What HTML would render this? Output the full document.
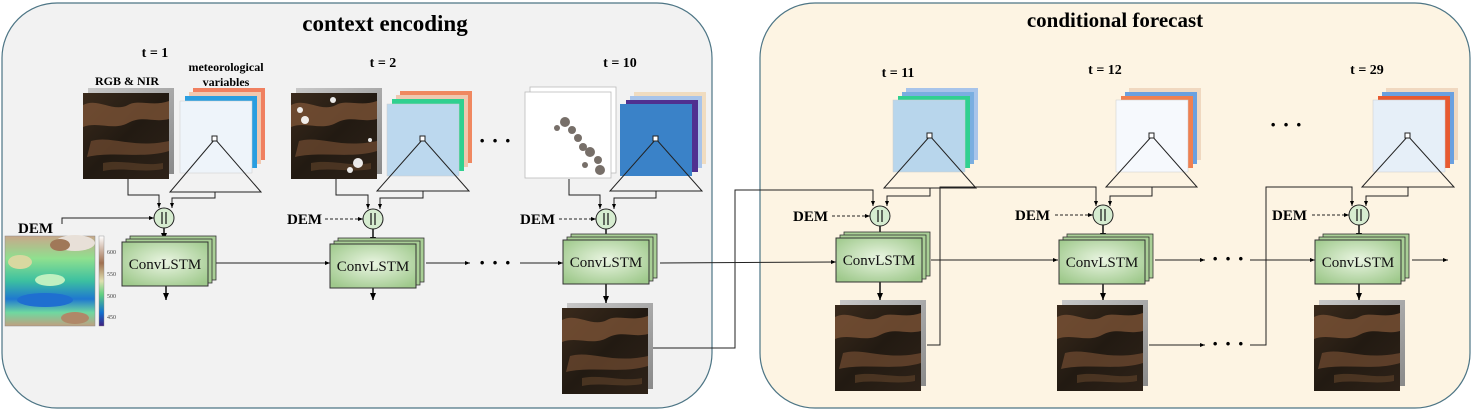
<!DOCTYPE html>
<html><head><meta charset="utf-8"><style>
html,body{margin:0;padding:0;background:#fff;}
svg{display:block;}
text{font-family:"Liberation Serif",serif;}
</style></head><body>
<svg width="1473" height="410" viewBox="0 0 1473 410" xmlns="http://www.w3.org/2000/svg" font-family="Liberation Serif, serif">
<defs>
<radialGradient id="cg" cx="50%" cy="45%" r="65%"><stop offset="0" stop-color="#eaf5e2"/><stop offset="1" stop-color="#9fc98c"/></radialGradient>
<linearGradient id="satg" x1="0" y1="0" x2="1" y2="1"><stop offset="0" stop-color="#3a2a1c"/><stop offset="0.5" stop-color="#221a12"/><stop offset="1" stop-color="#2e2218"/></linearGradient>
<linearGradient id="greyg" x1="0" y1="0" x2="1" y2="1"><stop offset="0" stop-color="#c8c8c8"/><stop offset="1" stop-color="#8a8a8a"/></linearGradient>
<linearGradient id="demg" x1="0" y1="0" x2="0" y2="1"><stop offset="0" stop-color="#c8a88a"/><stop offset="0.25" stop-color="#8fe08f"/><stop offset="0.5" stop-color="#3cc0a0"/><stop offset="0.7" stop-color="#1f78d0"/><stop offset="0.85" stop-color="#6fd8a0"/><stop offset="1" stop-color="#c0a080"/></linearGradient>
<linearGradient id="cbar" x1="0" y1="0" x2="0" y2="1"><stop offset="0" stop-color="#ffffff"/><stop offset="0.3" stop-color="#a07050"/><stop offset="0.5" stop-color="#e0e0b0"/><stop offset="0.65" stop-color="#60d080"/><stop offset="0.85" stop-color="#1070d0"/><stop offset="1" stop-color="#402080"/></linearGradient>
<marker id="ah" markerWidth="8" markerHeight="8" refX="7" refY="4" orient="auto" markerUnits="userSpaceOnUse"><path d="M0,1 L7,4 L0,7 z" fill="#000"/></marker>
<marker id="ahs" markerWidth="6" markerHeight="6" refX="5" refY="3" orient="auto" markerUnits="userSpaceOnUse"><path d="M0,1 L5,3 L0,5 z" fill="#000"/></marker>
<g id="sat">
<rect x="5" y="-5" width="86" height="86" fill="url(#greyg)"/>
<rect x="0" y="0" width="86" height="86" fill="url(#satg)"/>
<path d="M0,12 C15,4 30,20 45,12 C55,6 70,14 86,8 L86,26 C70,30 60,22 45,30 C30,38 15,28 0,34z" fill="#7a5236" opacity="0.8"/>
<path d="M8,48 C28,42 50,56 86,48 L86,58 C60,66 30,58 4,64z" fill="#6e4a30" opacity="0.75"/>
<path d="M20,70 C40,66 60,74 80,70 L80,76 C60,80 40,74 20,78z" fill="#5a3e28" opacity="0.7"/>
</g>
<g id="conv">
<rect x="8" y="-6" width="86" height="44" fill="#a9cf96" stroke="#333" stroke-width="0.8"/>
<rect x="4" y="-3" width="86" height="44" fill="#a9cf96" stroke="#333" stroke-width="0.8"/>
<rect x="0" y="0" width="86" height="44" fill="url(#cg)" stroke="#333" stroke-width="1"/>
<text x="43" y="27" font-size="15" text-anchor="middle" fill="#111">ConvLSTM</text>
</g>
<g id="cat">
<circle cx="0" cy="0" r="10" fill="#d6ecd0" stroke="#222" stroke-width="1"/>
<line x1="-2" y1="-6" x2="-2" y2="6" stroke="#111" stroke-width="1.2"/>
<line x1="2" y1="-6" x2="2" y2="6" stroke="#111" stroke-width="1.2"/>
</g>
</defs>

<rect x="2" y="3" width="710" height="405" rx="55" ry="55" fill="#f2f2f2" stroke="#4d7585" stroke-width="1.2"/>
<rect x="760" y="3" width="710" height="405" rx="55" ry="55" fill="#fdf4e3" stroke="#4d7585" stroke-width="1.2"/>
<text x="385" y="31" font-size="23" font-weight="bold" text-anchor="middle">context encoding</text>
<text x="1115" y="27" font-size="21" font-weight="bold" text-anchor="middle">conditional forecast</text>

<g font-weight="bold" font-size="14" text-anchor="middle">
<text x="155" y="57">t = 1</text>
<text x="383" y="67">t = 2</text>
<text x="620" y="67">t = 10</text>
<text x="898" y="77">t = 11</text>
<text x="1105" y="74">t = 12</text>
<text x="1367" y="74">t = 29</text>
<text x="127" y="85" font-size="12">RGB &amp; NIR</text>
<text x="226" y="71" font-size="12">meteorological</text>
<text x="226" y="86" font-size="12">variables</text>
</g>

<use href="#sat" x="83" y="93"/>
<rect x="193" y="88" width="72" height="72" fill="#f08060"/>
<rect x="189" y="92" width="72" height="72" fill="#f0c8b0"/>
<rect x="185" y="96" width="72" height="72" fill="#2a9ee0"/>
<rect x="180" y="101" width="72" height="72" fill="#eef4fa" stroke="#ccc" stroke-width="0.5"/>
<use href="#sat" x="291" y="93"/>
<g fill="#fff" opacity="0.9"><circle cx="305" cy="120" r="4"/><circle cx="300" cy="110" r="3"/><circle cx="358" cy="163" r="5"/><circle cx="350" cy="170" r="3"/><circle cx="333" cy="100" r="3"/><circle cx="370" cy="140" r="2"/></g>
<rect x="400" y="91" width="72" height="72" fill="#f08860"/>
<rect x="396" y="95" width="72" height="72" fill="#f0c8b0"/>
<rect x="392" y="99" width="72" height="72" fill="#30d090"/>
<rect x="387" y="104" width="72" height="72" fill="#bcd8ee" stroke="#ccc" stroke-width="0.5"/>
<rect x="530" y="87" width="86" height="86" fill="#fff" stroke="#bbb" stroke-width="0.8"/>
<rect x="525" y="92" width="86" height="86" fill="#fff" stroke="#bbb" stroke-width="0.8"/>
<g fill="#4a4038" opacity="0.75">
<circle cx="565" cy="122" r="5"/><circle cx="572" cy="130" r="4"/><circle cx="578" cy="138" r="4"/><circle cx="583" cy="147" r="4"/><circle cx="590" cy="152" r="5"/><circle cx="598" cy="160" r="4"/><circle cx="600" cy="170" r="5"/><circle cx="585" cy="165" r="3"/><circle cx="557" cy="128" r="3"/>
</g>
<rect x="634" y="92" width="72" height="72" fill="#f0dcc0"/>
<rect x="630" y="96" width="72" height="72" fill="#a8c4ea"/>
<rect x="626" y="100" width="72" height="72" fill="#503090"/>
<rect x="620" y="104" width="72" height="72" fill="#3a82c8"/>
<rect x="906" y="88" width="72" height="72" fill="#a8c4ea"/>
<rect x="902" y="92" width="72" height="72" fill="#7aaee0"/>
<rect x="898" y="96" width="72" height="72" fill="#30d090"/>
<rect x="893" y="100" width="72" height="72" fill="#b8d6ec" stroke="#ccc" stroke-width="0.5"/>
<rect x="1129" y="88" width="72" height="72" fill="#f0d8c0"/>
<rect x="1125" y="92" width="72" height="72" fill="#6aa0e0"/>
<rect x="1121" y="96" width="72" height="72" fill="#f08050"/>
<rect x="1116" y="100" width="72" height="72" fill="#f6f9fd" stroke="#ccc" stroke-width="0.5"/>
<rect x="1386" y="88" width="72" height="72" fill="#f0d8c0"/>
<rect x="1382" y="92" width="72" height="72" fill="#6aa0e0"/>
<rect x="1378" y="96" width="72" height="72" fill="#e85a30"/>
<rect x="1373" y="100" width="72" height="72" fill="#e6eff8" stroke="#ccc" stroke-width="0.5"/>

<g fill="none" stroke="#222" stroke-width="1">
<path d="M215,139 L170,192 L261,192 z"/><rect x="212" y="136" width="5" height="5" fill="#fff"/>
<path d="M423,139 L377,191 L469,191 z"/><rect x="420" y="136" width="5" height="5" fill="#fff"/>
<path d="M656,139 L610,191 L702,191 z"/><rect x="653" y="136" width="5" height="5" fill="#fff"/>
<path d="M930,136 L884,188 L976,188 z"/><rect x="927" y="133" width="5" height="5" fill="#fff"/>
<path d="M1152,136 L1106,187 L1197,187 z"/><rect x="1149" y="133" width="5" height="5" fill="#fff"/>
<path d="M1408,136 L1362,187 L1454,187 z"/><rect x="1405" y="133" width="5" height="5" fill="#fff"/>
</g>

<rect x="5" y="236" width="90" height="90" fill="url(#demg)" stroke="#888" stroke-width="0.5"/>
<ellipse cx="75" cy="243" rx="20" ry="8" fill="#e8e0d8"/>
<ellipse cx="60" cy="245" rx="10" ry="6" fill="#a07858"/>
<ellipse cx="20" cy="262" rx="12" ry="7" fill="#d8d8a0"/>
<ellipse cx="50" cy="280" rx="15" ry="6" fill="#c0f0c0"/>
<ellipse cx="45" cy="300" rx="28" ry="7" fill="#1f6fd0"/>
<ellipse cx="75" cy="318" rx="14" ry="6" fill="#b08868"/>
<rect x="99" y="236" width="5" height="90" fill="url(#cbar)" stroke="#888" stroke-width="0.4"/>
<g font-size="6" fill="#444" font-family="Liberation Sans,sans-serif">
<text x="107" y="254">600</text><text x="107" y="276">550</text><text x="107" y="298">500</text><text x="107" y="319">450</text>
</g>

<g font-weight="bold" font-size="15">
<text x="18" y="233">DEM</text>
<text x="287" y="224">DEM</text>
<text x="520" y="224">DEM</text>
<text x="793" y="221">DEM</text>
<text x="1015" y="220">DEM</text>
<text x="1272" y="220">DEM</text>
</g>

<g fill="none" stroke="#222" stroke-width="1">
<path d="M128,179 L128,195 L159,195 L159,208" marker-end="url(#ahs)"/>
<path d="M215,192 L215,198 L172,198 L172,208" marker-end="url(#ahs)"/>
<path d="M62,224 L62,218 L154,218" marker-end="url(#ahs)"/>
<path d="M336,179 L336,195 L368,195 L368,209" marker-end="url(#ahs)"/>
<path d="M423,191 L423,198 L380,198 L380,209" marker-end="url(#ahs)"/>
<path d="M325,219 L363,219" stroke-dasharray="3,2" marker-end="url(#ahs)"/>
<path d="M569,179 L569,195 L600,195 L600,209" marker-end="url(#ahs)"/>
<path d="M656,191 L656,198 L614,198 L614,209" marker-end="url(#ahs)"/>
<path d="M559,219 L596,219" stroke-dasharray="3,2" marker-end="url(#ahs)"/>
<path d="M652,348 L735,348 L735,190 L873,190 L873,206" marker-end="url(#ahs)"/>
<path d="M930,188 L930,196 L887,196 L887,206" marker-end="url(#ahs)"/>
<path d="M832,216 L870,216" stroke-dasharray="3,2" marker-end="url(#ahs)"/>
<path d="M927,345 L940,345 L940,187 L1096,187 L1096,206" marker-end="url(#ahs)"/>
<path d="M1152,187 L1152,196 L1110,196 L1110,206" marker-end="url(#ahs)"/>
<path d="M1055,215 L1093,215" stroke-dasharray="3,2" marker-end="url(#ahs)"/>
<path d="M1149,345 L1205,345" marker-end="url(#ahs)"/>
<path d="M1250,345 L1266,345 L1266,187 L1352,187 L1352,206" marker-end="url(#ahs)"/>
<path d="M1408,187 L1408,196 L1366,196 L1366,206" marker-end="url(#ahs)"/>
<path d="M1312,215 L1349,215" stroke-dasharray="3,2" marker-end="url(#ahs)"/>
<path d="M216,263 L330,263" marker-end="url(#ahs)"/>
<path d="M426,263 L470,263" marker-end="url(#ahs)"/>
<path d="M520,263 L563,263" marker-end="url(#ahs)"/>
<path d="M660,263 L836,262" marker-end="url(#ahs)"/>
<path d="M931,260 L1058,260" marker-end="url(#ahs)"/>
<path d="M1155,260 L1205,260" marker-end="url(#ahs)"/>
<path d="M1250,260 L1315,260" marker-end="url(#ahs)"/>
<path d="M1412,260 L1448,260" marker-end="url(#ahs)"/>
</g>
<g stroke="#111" stroke-width="1.5" fill="none">
<path d="M164,228 L164,240" marker-end="url(#ah)"/>
<path d="M373,229 L373,244" marker-end="url(#ah)"/>
<path d="M606,229 L606,243" marker-end="url(#ah)"/>
<path d="M880,225 L880,240" marker-end="url(#ah)"/>
<path d="M1103,225 L1103,240" marker-end="url(#ah)"/>
<path d="M1359,225 L1359,240" marker-end="url(#ah)"/>
<path d="M166,286 L166,300" marker-end="url(#ah)"/>
<path d="M373,286 L373,300" marker-end="url(#ah)"/>
<path d="M606,284 L606,303" marker-end="url(#ah)"/>
<path d="M880,281 L880,300" marker-end="url(#ah)"/>
<path d="M1103,279 L1103,300" marker-end="url(#ah)"/>
<path d="M1359,279 L1359,300" marker-end="url(#ah)"/>
</g>

<use href="#cat" x="164" y="218"/>
<use href="#cat" x="373" y="219"/>
<use href="#cat" x="606" y="219"/>
<use href="#cat" x="880" y="216"/>
<use href="#cat" x="1103" y="215"/>
<use href="#cat" x="1359" y="215"/>

<use href="#conv" x="122" y="242"/>
<use href="#conv" x="330" y="244"/>
<use href="#conv" x="563" y="240"/>
<use href="#conv" x="836" y="238"/>
<use href="#conv" x="1059" y="240"/>
<use href="#conv" x="1315" y="240"/>

<use href="#sat" x="562" y="308"/>
<use href="#sat" x="835" y="305"/>
<use href="#sat" x="1057" y="305"/>
<use href="#sat" x="1314" y="305"/>

<g font-size="22" font-weight="bold" text-anchor="middle">
<text x="495" y="148">· · ·</text>
<text x="495" y="270">· · ·</text>
<text x="1286" y="132">· · ·</text>
<text x="1228" y="266">· · ·</text>
<text x="1228" y="351">· · ·</text>
</g>
</svg>
</body></html>
